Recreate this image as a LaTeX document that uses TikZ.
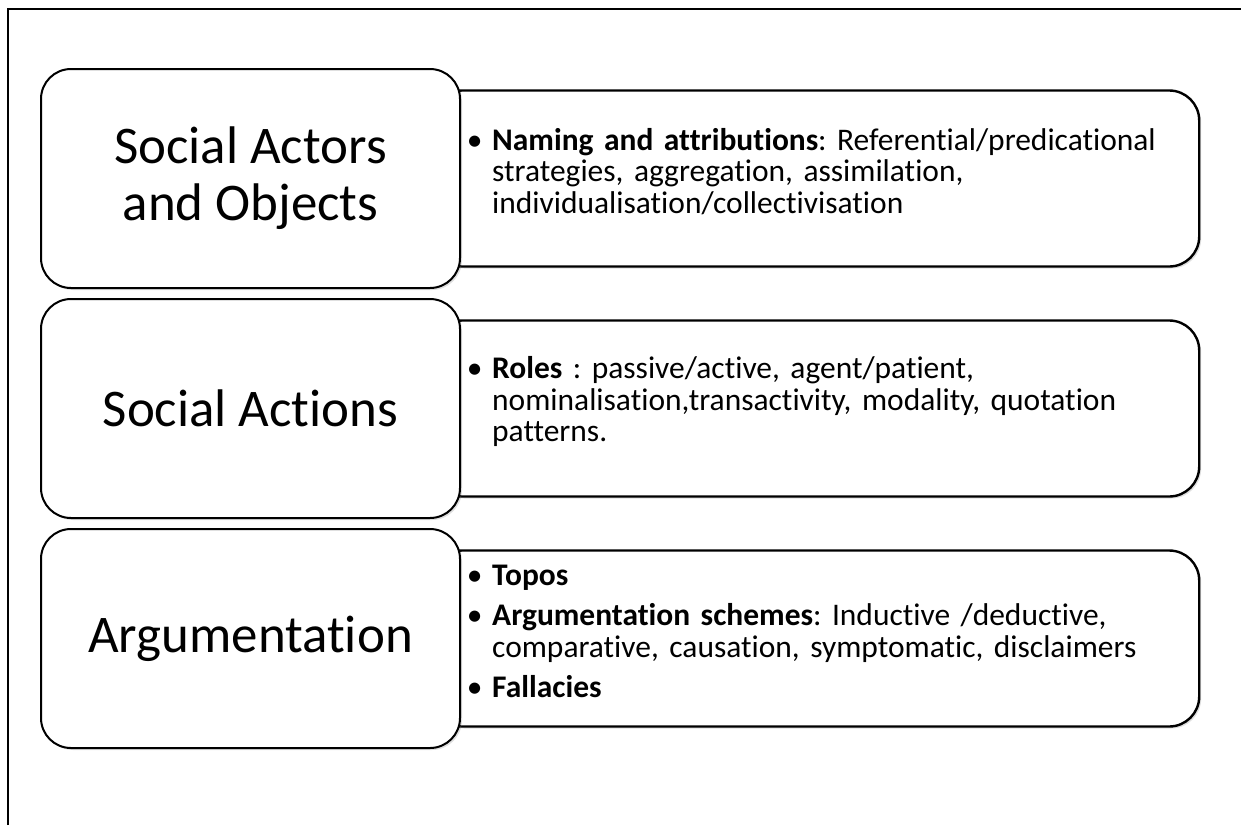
\documentclass[tikz,border=0pt]{standalone}
\usepackage{fontspec}
\setmainfont{Carlito}[Ligatures=NoCommon]
\usetikzlibrary{positioning}
\usetikzlibrary{shadows}
\pgfdeclarelayer{back}
\pgfsetlayers{back,main}
\frenchspacing
\newcommand{\bul}{\makebox[15pt][l]{\hspace*{-4pt}\textbullet}}
\newcommand{\ind}{\hspace*{15pt}}
\tikzset{
    topic/.style={
        draw,fill=white,line width=1.5pt,
        rounded corners=22.5pt,
        minimum width=314.25pt,minimum height=164.25pt,
        inner sep=0pt,align=center,
        font=\fontsize{39.7}{42.75}\selectfont,
        drop shadow={opacity=0.25,shadow xshift=1.5pt,shadow yshift=-1.5pt}},
    note/.style={
        draw,fill=white,line width=1.8pt,
        rounded corners=22.5pt,
        minimum height=132pt,
        text width=515.25pt,inner xsep=30pt,inner ysep=0pt,
        align=left,anchor=west,
        font=\fontsize{23.6}{23.6}\selectfont,
        execute at end node={\par\vspace{10.5pt}},
        drop shadow={opacity=0.25,shadow xshift=1.5pt,shadow yshift=-1.5pt}},
}

\begin{document}
\begin{tikzpicture}[x=0.75pt,y=-0.75pt]
    \useasboundingbox (0,0) rectangle (1241,825);
    \draw[line width=1.5pt] (8,825) -- (8,9) -- (1241,9);

    \node[topic] (actors) at (250.5,178.5) {Social Actors\\and Objects};
    \node[topic,below=6.75pt of actors] (actions) {Social Actions};
    \node[topic,below=6.75pt of actions] (argument) {Argumentation};

    % notes go behind the topic boxes
    \begin{pgfonlayer}{back}
    \node[note] (actorsnote) at ([xshift=-22.5pt]actors.east) {%
        \bul\textbf{Naming and attributions}: Referential/predicational\\
        \ind strategies, aggregation, assimilation,\\
        \ind individualisation/collectivisation};
    \node[note] (actionsnote) at ([xshift=-22.5pt]actions.east) {%
        \bul\textbf{Roles} : passive/active, agent/patient,\\
        \ind nominalisation,transactivity, modality, quotation\\
        \ind patterns.};
    \node[note] (argumentnote) at ([xshift=-22.5pt]argument.east) {%
        \bul\textbf{Topos}\\[6.75pt]
        \bul\textbf{Argumentation schemes}: Inductive /deductive,\\
        \ind comparative, causation, symptomatic, disclaimers\\[6.75pt]
        \bul\textbf{Fallacies}};
    \end{pgfonlayer}
\end{tikzpicture}
\end{document}
